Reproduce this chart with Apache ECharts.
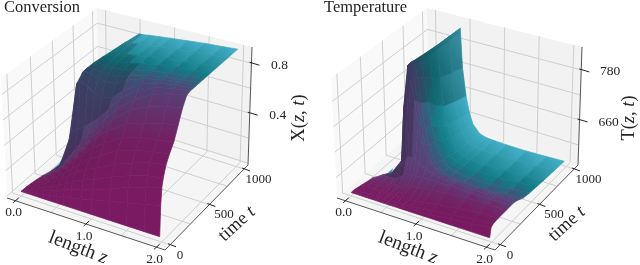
<!DOCTYPE html>
<html><head><meta charset="utf-8">
<style>html,body{margin:0;padding:0;background:#fff}#c{width:640px;height:265px}</style>
<script src="https://cdn.jsdelivr.net/npm/echarts@6/dist/echarts.min.js"></script>
</head><body><div id="c"></div>
<script>
// ---- data ----
const zTickLabels=['0.0','1.0','2.0'];
const zTicks=[0,1,2];
const tTicks=[0,500,1000];
const zGridLines=[0,0.5,1,1.5,2];
const tGridLines=[0,250,500,750,1000];
const xTicks=[0.4,0.8];
const xGridLines=[0,0.2,0.4,0.6,0.8];
const tempTicks=[660,780];
const tempGridLines=[600,660,720,780];

const convZ=[0,.1,.2,.3,.4,.5,.6,.7,.85,1,1.25,1.5,1.75,1.97];
const convT=[0,5,15,30,60,100,150,200,250,300,340,380,420,460,520,600,700,850,1000];
const convStart=[0,0,0,0,0,0.01,0.03,0.05,0.1,0.18,0.27,0.35,0.38,0.41,0.43,0.46,0.49,0.52,0.55];
const convShadeTo=[0,0,0,0,0,0,0,0,0,.3,.5,.85,1,1,.95,.85,.7,.6,.55];
const conversion=[
[.02,.02,.02,.02,.02,.02,.02,.02,.02,.02,.02,.02,.02,.02],
[.02,.03,.04,.05,.06,.07,.08,.09,.11,.13,.16,.19,.22,.25],
[.02,.03,.05,.07,.09,.11,.13,.15,.18,.2,.25,.3,.34,.38],
[.02,.03,.06,.09,.11,.14,.17,.2,.24,.27,.33,.38,.42,.44],
[.02,.04,.07,.1,.13,.17,.21,.25,.3,.34,.41,.46,.5,.52],
[.02,.04,.07,.11,.15,.19,.24,.29,.36,.41,.49,.53,.56,.58],
[.02,.04,.08,.12,.17,.22,.28,.34,.42,.48,.56,.6,.62,.64],
[.02,.04,.08,.13,.18,.24,.31,.38,.48,.55,.64,.68,.72,.74],
[.02,.04,.08,.14,.2,.27,.34,.41,.51,.6,.72,.78,.82,.84],
[.02,.04,.09,.16,.24,.33,.4,.46,.56,.66,.77,.85,.89,.91],
[.02,.03,.1,.34,.38,.42,.47,.52,.62,.72,.82,.88,.91,.92],
[.02,.08,.3,.68,.75,.72,.68,.66,.68,.76,.85,.895,.915,.92],
[.02,.2,.5,.7,.8,.8,.78,.77,.77,.82,.87,.9,.915,.92],
[.02,.3,.6,.75,.81,.82,.8,.8,.8,.84,.875,.9,.915,.92],
[.02,.3,.6,.75,.82,.83,.82,.82,.83,.85,.88,.9,.915,.92],
[.02,.3,.6,.75,.82,.84,.83,.83,.84,.86,.885,.9,.915,.92],
[.02,.3,.6,.75,.82,.84,.84,.84,.85,.865,.885,.9,.915,.92],
[.02,.3,.6,.75,.82,.84,.84,.85,.855,.87,.885,.9,.91,.92],
[.02,.3,.6,.75,.82,.84,.84,.85,.86,.87,.885,.9,.91,.92]];
const convSliver=[[.08,250,.03],[.16,300,.08],[.21,325,.14],[.19,325,.07]];

const tempZ=[0,.1,.2,.3,.35,.42,.45,.5,.55,.6,.7,.8,.9,1.1,1.4,1.7,1.97];
const tempT=[0,15,40,100,200,260,300,340,380,420,500,600,700,850,1000];
const tempStart=[0,0,0,0.02,0.05,0.12,0.2,0.3,0.37,0.39,0.4,0.4,0.4,0.4,0.4];
const tempShadeTo=[0,0,0,0,0,0,.42,.5,.5,.5,.5,.5,.5,.5,.5];
const temperature=[
[560,560,560,560,560,560,560,560,560,560,560,560,560,560,560,560,560],
[560,560,560,560,560,560,560,560,560,561,561,562,562,565,570,575,580],
[560,560,560,560,560,560,560,560,561,561,562,563,564,568,574,580,584],
[560,560,560,560,560,560,561,561,561,562,562,564,566,572,578,583,585],
[560,560,560,560,561,563,564,566,568,570,572,574,576,580,583,585,585],
[560,560,560,561,566,575,578,580,582,583,584,585,585,585,584,584,585],
[560,560,562,566,585,610,615,615,610,605,598,592,588,585,584,584,585],
[560,560,566,590,720,825,800,745,690,650,610,592,585,580,580,580,582],
[560,560,570,620,740,826,795,735,675,635,598,582,575,572,572,574,578],
[560,560,575,640,760,824,785,725,665,628,590,574,568,565,565,568,574],
[560,560,575,650,770,822,770,715,660,625,585,570,565,562,562,566,571],
[560,560,580,650,770,820,755,690,640,610,578,566,562,560,561,564,569],
[560,560,580,650,770,818,740,672,628,600,572,563,561,559,560,563,567],
[560,560,580,650,770,817,728,660,618,590,568,562,560,559,559,562,565],
[560,560,580,650,770,816,718,650,610,585,566,561,560,559,559,561,563]];
const tempSliver=[[.08,250,558],[.16,285,562],[.21,310,572],[.19,310,560]];

const rampPos=[0,.15,.28,.38,.48,.58,.78,1];
const rampCol=[[122,26,98],[118,32,100],[95,60,118],[72,78,122],[48,98,125],[15,122,132],[42,149,166],[66,174,198]];
const sliverCol='#2aa0ad';

// ---- layout of the two 3D boxes ----
const box={f0:[[7,198],[165,250],[248,165],[99,118]],top:[[1,78],[168,122],[252,47],[97,8]]};
const panelOff=[0,330];
const zRange=[-.123,2.119], tRange=[-60,1060];
const xRange=[-.015,.93], tempRange=[552,835];
const lm=echarts.number.linearMap;
function proj(off,vr,z,t,v){
  const u=lm(z,zRange,[0,1]);
  let s=lm(t,tRange,[0,1]); s=1.15*s/(1+.15*s);
  const w=lm(v,vr,[0,1]);
  const mix=c=>{
    const a=box.f0.map(p=>p[c]),b=box.top.map(p=>p[c]);
    const bl=q=>(q[0]*(1-u)+q[1]*u)*(1-s)+(q[3]*(1-u)+q[2]*u)*s;
    return bl(a)*(1-w)+bl(b)*w;
  };
  return [mix(0)+off,mix(1)];
}
function rampAt(x){
  for(let i=1;i<rampPos.length;i++) if(x<=rampPos[i]){
    const k=(x-rampPos[i-1])/(rampPos[i]-rampPos[i-1]);
    return rampCol[i].map((c,j)=>rampCol[i-1][j]*(1-k)+c*k);
  }
  return rampCol[rampCol.length-1];
}
const css=(c,f)=>'rgb('+c.map(v=>Math.max(0,Math.min(255,Math.round(v*f)))).join(',')+')';

function surfaceEls(off,vr,Z,T,V,start,shadeTo,sliver,amp,darkF){
  const cells=[],fm=[];
  const vert=(i,j)=>{
    const s=start[i]; let z=Z[j],v=V[i][j];
    if(z<s){
      let k=0; while(k<Z.length-1&&Z[k+1]<s)k++;
      const f=(s-Z[k])/(Z[k+1]-Z[k]); z=s; v=V[i][k]*(1-f)+V[i][k+1]*f;
    }
    return [z,T[i],v];
  };
  const wsc=p=>[p[0]/2.24,p[1]/1120,.75*(p[2]-vr[0])/(vr[1]-vr[0])];
  for(let i=0;i<T.length-1;i++){fm[i]=[];for(let j=0;j<Z.length-1;j++){
    const A=wsc(vert(i,j)),B=wsc(vert(i,j+1)),C=wsc(vert(i+1,j+1)),D=wsc(vert(i+1,j));
    const e=[C[0]-A[0],C[1]-A[1],C[2]-A[2]],g=[D[0]-B[0],D[1]-B[1],D[2]-B[2]];
    const n=[e[1]*g[2]-e[2]*g[1],e[2]*g[0]-e[0]*g[2],e[0]*g[1]-e[1]*g[0]];
    let L=Math.hypot(n[0],n[1],n[2])||1; if(n[2]<0)L=-L;
    const dot=-(n[0]*-.85+n[1]*-.25+n[2]*.33)/L;
    const raw=(.65+.35*dot)/.5345;
    fm[i][j]=Math.max(.72,Math.min(1,1-(1-raw)*amp));
  }}
  const at=(i,j)=>fm[Math.max(0,Math.min(T.length-2,i))][Math.max(0,Math.min(Z.length-2,j))];
  const sm=(i,j)=>(at(i,j)*2+at(i,j-1)+at(i,j+1))/4;
  for(let i=0;i<T.length-1;i++)for(let j=0;j<Z.length-1;j++){
    const a=vert(i,j),b=vert(i,j+1),c=vert(i+1,j+1),d=vert(i+1,j);
    if(a[0]===b[0]&&c[0]===d[0])continue;
    const A=wsc(a),B=wsc(b),C=wsc(c),D=wsc(d);
    const mid=[A,B,C,D].reduce((q,p)=>[q[0]+p[0]/4,q[1]+p[1]/4,q[2]+p[2]/4],[0,0,0]);
    const depth=.433*mid[0]-.75*mid[1]+.5*mid[2];
    const P=[a,b,c,d].map(p=>proj(off,vr,p[0],p[1],p[2]));
    const m0=[(P[0][0]+P[1][0])/2,(P[0][1]+P[1][1])/2],m1=[(P[2][0]+P[3][0])/2,(P[2][1]+P[3][1])/2];
    const dark=((a[0]+b[0])/2<shadeTo[i]||(c[0]+d[0])/2<shadeTo[i+1])?darkF:1;
    const f0=dark*(sm(i,j)+sm(i-1,j))/2;
    const f1=dark*(sm(i,j)+sm(i+1,j))/2;
    const grad=new echarts.graphic.LinearGradient(m0[0],m0[1],m1[0],m1[1],[
      {offset:0,color:css(rampAt(T[i]/1000),f0)},{offset:1,color:css(rampAt(T[i+1]/1000),f1)}],true);
    cells.push({depth,el:{type:'polygon',shape:{points:P},style:{fill:grad,stroke:grad,lineWidth:.7}}});
  }
  cells.sort((p,q)=>p.depth-q.depth);
  const sl={type:'polygon',shape:{points:sliver.map(p=>proj(off,vr,p[0],p[1],p[2]))},style:{fill:sliverCol}};
  return [sl].concat(cells.map(c=>c.el));
}
function line(a,b,col,w){return {type:'line',shape:{x1:a[0],y1:a[1],x2:b[0],y2:b[1]},style:{stroke:col,lineWidth:w}};}
function label(x,y,text,size,rot,rich){
  return {type:'text',x,y,rotation:(rot||0)*Math.PI/180,
    style:{text,rich,fontFamily:'Liberation Serif',fontSize:size,fill:'#262626',align:'center',verticalAlign:'middle'}};
}
const mathRich=s=>({a:{fontFamily:'Liberation Serif',fontSize:s,fill:'#262626'},b:{fontFamily:'Liberation Serif',fontStyle:'italic',fontSize:s,fill:'#262626'}});
function frameEls(off,vr,vGrid,vTicks,vLabels,vTitle){
  const els=[],P=(z,t,v)=>proj(off,vr,z,t,v),[z0,z1]=zRange,[t0,t1]=tRange,[v0,v1]=vr;
  const poly=(pts,fill)=>({type:'polygon',shape:{points:pts},style:{fill}});
  els.push(poly([P(z0,t0,v0),P(z0,t1,v0),P(z0,t1,v1),P(z0,t0,v1)],'#f9f9f9'));
  els.push(poly([P(z0,t1,v0),P(z1,t1,v0),P(z1,t1,v1),P(z0,t1,v1)],'#f2f2f2'));
  els.push(poly([P(z0,t0,v0),P(z1,t0,v0),P(z1,t1,v0),P(z0,t1,v0)],'#f5f5f5'));
  const G='#cfcfcf';
  zGridLines.forEach(z=>{els.push(line(P(z,t0,v0),P(z,t1,v0),G,1),line(P(z,t1,v0),P(z,t1,v1),G,1));});
  tGridLines.forEach(t=>{els.push(line(P(z0,t,v0),P(z1,t,v0),G,1),line(P(z0,t,v0),P(z0,t,v1),G,1));});
  vGrid.forEach(v=>{els.push(line(P(z0,t0,v),P(z0,t1,v),G,1),line(P(z0,t1,v),P(z1,t1,v),G,1));});
  const A='#555555';
  els.push(line(P(z0,t0,v0),P(z1,t0,v0),A,1),line(P(z1,t0,v0),P(z1,t1,v0),A,1),line(P(z1,t1,v0),P(z1,t1,v1),A,1));
  zTicks.forEach((z,i)=>{const p=P(z,t0,v0);
    els.push(line([p[0]-2.5,p[1]+2],[p[0]+3,p[1]-3],'#222',1));
    els.push(label(p[0]-2,p[1]+12,zTickLabels[i],13.5));});
  tTicks.forEach(t=>{const p=P(z1,t,v0);
    els.push(line([p[0]-2,p[1]-1],[p[0]+6,p[1]+2],'#222',1));
    els.push(label(p[0]+(t===0?10:14.5),p[1]+10.5,String(t),13));});
  vTicks.forEach((v,i)=>{const p=P(z1,t1,v);
    els.push(line([p[0]-2,p[1]-1],[p[0]+8,p[1]+2],'#222',1));
    els.push(label(p[0]+vLabels.off,p[1]+2,vLabels.text[i],13.5));});
  els.push(label(78+off,248,'{a|length }{b|z}',19.5,-21,mathRich(19.5)));
  els.push(label(237+off,224,'{a|time }{b|t}',18.5,42,mathRich(18.5)));
  els.push(label(vTitle.x+off,118,'{a|'+vTitle.s+'(}{b|z}{a|, }{b|t}{a|)}',18.5,90,mathRich(18.5)));
  return els;
}
function layer(els){
  return {type:'custom',coordinateSystem:'none',silent:true,animation:false,progressive:0,clip:false,
    data:els.map((_,i)=>[i]),renderItem:p=>els[p.dataIndex]};
}
const xLab=xTicks.map(v=>v.toFixed(1));
const chart=echarts.init(document.getElementById('c'),null,{renderer:'canvas'});
const titleStyle={fontFamily:'Liberation Serif',fontWeight:'normal',fontSize:16.5,color:'#262626'};
chart.setOption({animation:false,
  title:[{text:'Conversion',left:4,top:-1,padding:0,textStyle:titleStyle},
         {text:'Temperature',left:324,top:-1,padding:0,textStyle:titleStyle}],
  series:[
    layer(frameEls(panelOff[0],xRange,xGridLines,xTicks,{off:28,text:xLab},{s:'X',x:299})),
    layer(surfaceEls(panelOff[0],xRange,convZ,convT,conversion,convStart,convShadeTo,convSliver,.25,.82)),
    layer(frameEls(panelOff[1],tempRange,tempGridLines,tempTicks,{off:29,text:tempTicks.map(String)},{s:'T',x:299})),
    layer(surfaceEls(panelOff[1],tempRange,tempZ,tempT,temperature,tempStart,tempShadeTo,tempSliver,.3,.82))
  ]});
</script></body></html>
